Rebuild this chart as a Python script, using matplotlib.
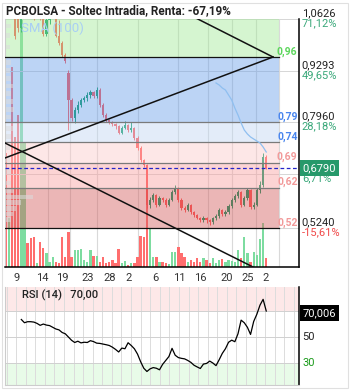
import numpy as np
import matplotlib.pyplot as plt
from matplotlib.transforms import blended_transform_factory
from matplotlib.patches import Rectangle

plt.rcParams['font.family'] = ['Roboto', 'DejaVu Sans']

# velas intradia (3 velas por sesion)
opens = [1.14, 1.11, 1.13, 1.09, 1.07, 1.04, 1.09, 1.12, 1.10, 1.08,
         1.07, 1.08, 1.07, 1.025, 1.06, 1.08, 1.085, 1.02, 1.00, 0.97,
         0.924, 0.854, 0.807, 0.828, 0.841, 0.854, 0.859, 0.867, 0.874, 0.864,
         0.880, 0.841, 0.815, 0.802, 0.797, 0.792, 0.787, 0.769, 0.782, 0.789,
         0.777, 0.782, 0.756, 0.730, 0.699, 0.686, 0.583, 0.596, 0.609, 0.583,
         0.601, 0.596, 0.583, 0.596, 0.617, 0.627, 0.596, 0.575, 0.570, 0.583,
         0.565, 0.557, 0.550, 0.544, 0.550, 0.544, 0.539, 0.550, 0.555, 0.570,
         0.560, 0.565, 0.581, 0.596, 0.606, 0.617, 0.583, 0.601, 0.622, 0.578,
         0.583, 0.622, 0.635, 0.707]
closes = [1.11, 1.13, 1.09, 1.02, 1.04, 1.09, 1.12, 1.10, 1.08, 1.07,
          1.08, 1.07, 1.025, 1.06, 1.08, 1.085, 1.02, 1.00, 0.97, 0.955,
          0.854, 0.807, 0.828, 0.841, 0.854, 0.859, 0.867, 0.874, 0.864, 0.880,
          0.841, 0.815, 0.802, 0.797, 0.792, 0.787, 0.769, 0.782, 0.789, 0.777,
          0.782, 0.756, 0.730, 0.699, 0.686, 0.583, 0.596, 0.609, 0.583, 0.601,
          0.596, 0.583, 0.596, 0.617, 0.627, 0.596, 0.575, 0.570, 0.583, 0.565,
          0.557, 0.550, 0.544, 0.550, 0.544, 0.539, 0.550, 0.555, 0.570, 0.560,
          0.565, 0.581, 0.596, 0.606, 0.617, 0.583, 0.601, 0.622, 0.578, 0.583,
          0.622, 0.635, 0.707, 0.679]
highs = [1.15, 1.14, 1.14, 1.10, 1.08, 1.10, 1.13, 1.13, 1.11, 1.09,
         1.09, 1.085, 1.075, 1.07, 1.09, 1.09, 1.09, 1.06, 1.005, 0.975,
         0.93, 0.86, 0.835, 0.85, 0.86, 0.865, 0.875, 0.88, 0.878, 0.888,
         0.884, 0.845, 0.82, 0.806, 0.80, 0.795, 0.79, 0.786, 0.80, 0.792,
         0.797, 0.785, 0.76, 0.735, 0.703, 0.69, 0.605, 0.615, 0.612, 0.607,
         0.605, 0.60, 0.60, 0.622, 0.635, 0.63, 0.60, 0.58, 0.588, 0.586,
         0.568, 0.56, 0.553, 0.555, 0.552, 0.548, 0.553, 0.56, 0.575, 0.572,
         0.57, 0.586, 0.60, 0.612, 0.622, 0.62, 0.606, 0.627, 0.625, 0.59,
         0.627, 0.645, 0.716, 0.712]
lows = [1.10, 1.10, 1.08, 1.01, 1.03, 1.03, 1.08, 1.09, 1.07, 1.06,
        1.065, 1.06, 1.02, 1.02, 1.05, 1.075, 1.015, 0.995, 0.965, 0.95,
        0.777, 0.80, 0.795, 0.82, 0.835, 0.848, 0.85, 0.86, 0.858, 0.86,
        0.836, 0.81, 0.797, 0.792, 0.787, 0.78, 0.765, 0.765, 0.778, 0.772,
        0.772, 0.752, 0.725, 0.695, 0.68, 0.575, 0.575, 0.59, 0.578, 0.58,
        0.59, 0.578, 0.58, 0.593, 0.612, 0.592, 0.57, 0.565, 0.567, 0.56,
        0.552, 0.546, 0.54, 0.54, 0.538, 0.532, 0.535, 0.545, 0.55, 0.556,
        0.555, 0.56, 0.576, 0.59, 0.60, 0.578, 0.58, 0.597, 0.573, 0.574,
        0.58, 0.615, 0.63, 0.675]
volumes = [1140, 490, 2000, 1300, 1520, 3000, 1250, 240, 290, 300,
           40, 250, 190, 140, 50, 100, 50, 40, 300, 100,
           350, 100, 170, 170, 180, 70, 50, 170, 110, 110,
           50, 100, 40, 50, 70, 40, 180, 40, 60, 20,
           40, 40, 100, 310, 300, 1020, 380, 100, 100, 50,
           50, 40, 30, 150, 150, 200, 140, 100, 50, 70,
           50, 90, 50, 90, 70, 40, 90, 40, 70, 80,
           50, 70, 60, 50, 170, 90, 300, 140, 50, 150,
           120, 280, 440, 90]

sma_start = 67
sma100 = [0.8977, 0.8925, 0.8848, 0.8796, 0.8667, 0.8538, 0.8332, 0.8152, 0.7946,
          0.7765, 0.7662, 0.7585, 0.7533, 0.7482, 0.7430, 0.7327, 0.7198]

rsi_start = 5
rsi14 = [63.5, 61, 61.8, 61.8, 61.5, 60.5, 59, 60, 59.2, 58.8, 57.5, 56.2, 55.5, 53.5,
         52.5, 50, 47.5, 45.8, 46.8, 45.5, 46, 45.8, 47.2, 46.5, 45.3, 45.1, 44.6, 44.1,
         43.5, 42.2, 40.5, 38.5, 41.5, 41, 45.6, 43.5, 41, 36.9, 31, 26, 23.5, 25.5, 26.5,
         26, 24.8, 29, 32, 35, 41.3, 36, 34.2, 33.6, 33.2, 32, 30.5, 28.3, 27, 25.8, 29.2,
         29.7, 31.5, 30, 28, 32.5, 37.4, 41, 46, 47.6, 46.4, 52.5, 63, 61, 57.5, 52, 62,
         67.5, 74.5, 79, 70.006]

# perfil de volumen (izquierda)
profile_prices = [1.045, 1.02, 0.99, 0.95, 0.93, 0.91, 0.89, 0.87, 0.85, 0.83, 0.81,
                  0.78, 0.76, 0.73, 0.70, 0.67, 0.64, 0.62, 0.604, 0.59, 0.575, 0.56, 0.545]
profile_size = [2, 1.5, 1.5, 2, 1.5, 2, 2.5, 2, 2.5, 3, 2, 2.5, 2, 1.5, 1.5, 2, 2, 3,
                9, 5, 3.5, 2.5, 2]

fib_low = 0.524
fib_high = 0.9646
fib_ratios = [0, 0.236, 0.382, 0.5, 0.618, 1]

trend_lines = [((-0.2, 0.7044), (85.15, 0.9646)),
               ((30.05, 1.19), (85.15, 0.9646)),
               ((-0.2, 0.743), (78.8, 0.4234))]

date_pos = [3.6, 11.6, 18.0, 26.2, 33.2, 39.0, 47.6, 55.2, 61.9, 70.5, 77.2, 82.9]
date_labels = ['9', '14', '19', '23', '28', '2', '6', '11', '16', '20', '25', '2']
grid_pos = [13.5, 20.5, 29.1, 42.2, 54.9, 64.4, 72.1, 79.7, 87.1]

axis_prices = [1.0626, 0.9293, 0.7960, 0.6627, 0.5240]
axis_pcts = ['71,12%', '49,65%', '28,18%', '6,71%', '-15,61%']

title = 'PCBOLSA - Soltec Intradia, Renta: -67,19%'

# ---------------------------------------------------------------
W, H = 353, 390
def box(x0, y0, x1, y1):
    return [x0 / W, 1 - y1 / H, (x1 - x0) / W, (y1 - y0) / H]

def coma(v, dec):
    # truncado, como en la grafica original
    f = 10 ** dec
    return ('%.*f' % (dec, np.floor(v * f + 1e-9) / f)).replace('.', ',')

xmin, xmax = -0.2, 93.43
ymin, ymax = 0.4234, 1.0626

fig = plt.figure(figsize=(3.53, 3.90), dpi=100)
vax = fig.add_axes(box(5, 19, 299, 267))
ax = fig.add_axes(box(5, 19, 299, 267))
rax = fig.add_axes(box(5, 287, 299, 385))
vax.set_zorder(1)
ax.set_zorder(2)
ax.patch.set_visible(False)

x = np.arange(len(closes))
o = np.array(opens)
c = np.array(closes)
up = c >= o

# volumen
vcols = np.where(up, '#7ddca0', '#ff6e6e')
for g in grid_pos:
    vax.axvline(g, color='#d9d9d9', lw=0.8, zorder=0)
vax.bar(x, volumes, width=0.75, color=vcols, zorder=1)
vax.set_xlim(xmin, xmax)
vax.set_ylim(0, 2480)
vax.axis('off')

# velas
ccols = np.where(up, '#00965f', '#ff4d4d')
ax.vlines(x, lows, highs, colors=ccols, lw=0.7, zorder=1)
ax.bar(x, np.maximum(np.abs(c - o), 0.003), bottom=np.minimum(o, c), width=0.7,
       color=ccols, zorder=1)

for p in axis_prices:
    ax.axhline(p, color='#d6d6d6', lw=0.7, zorder=0)

# bandas de Fibonacci (semitransparentes por encima)
levels = [fib_low + r * (fib_high - fib_low) for r in fib_ratios]
band_cols = ['#d35f5f', '#f9a0a0', '#fbcaca', '#c1d7f2', '#6ba0e9']
bx = (279 - 5) / 294
for lo, hi, col in zip(levels[:-1], levels[1:], band_cols):
    ax.axhspan(lo, hi, xmin=0, xmax=bx, color=col, alpha=0.45, lw=0, zorder=2)
ax.axhspan(fib_high, ymax, xmin=0, xmax=bx, color='#a2e997', alpha=0.45, lw=0, zorder=2)

ax.barh(profile_prices, profile_size, height=0.012, left=xmin, color='#dcdcdc',
        alpha=0.55, zorder=2.5)

trans = blended_transform_factory(ax.transAxes, ax.transData)
lab_cols = ['#f29a9a', '#f29a9a', '#f29a9a', '#4a86ee', '#4a86ee', '#5cd65c']
for lv, lc in zip(levels, lab_cols):
    edge = '#111111' if lv in (fib_low, fib_high) else '#7a7a7a'
    ax.axhline(lv, xmax=bx, color=edge, lw=0.9, zorder=3)
    ax.annotate(coma(lv, 2), (1, lv), xycoords=trans, xytext=(-1, 2), textcoords='offset points',
                ha='right', va='baseline', fontsize=7.5, fontweight='bold', color=lc,
                annotation_clip=False, zorder=6)

ax.axhline(closes[-1], color='#2424c8', lw=0.9, ls=(0, (3, 2)), zorder=4)
ax.plot(np.arange(sma_start, sma_start + len(sma100)), sma100, color='#8fbff0', lw=0.9, zorder=4)
for (x0, y0), (x1, y1) in trend_lines:
    ax.plot([x0, x1], [y0, y1], color='#111111', lw=1.1, zorder=5)

ax.set_xlim(xmin, xmax)
ax.set_ylim(ymin, ymax)
ax.set_yticks([])
ax.set_xticks(date_pos)
ax.set_xticklabels(date_labels)
ax.tick_params(axis='x', length=0, pad=4, labelsize=8, labelcolor='#333333')
ax.spines['top'].set_visible(False)
ax.spines['left'].set_color('#cccccc')
ax.spines['left'].set_linewidth(0.8)
ax.spines['right'].set_color('black')
ax.spines['bottom'].set_color('black')
ax.spines['right'].set_linewidth(1.1)
ax.spines['bottom'].set_linewidth(1.1)

# escala derecha
for p, pct in zip(axis_prices, axis_pcts):
    if abs(p - closes[-1]) > 0.03:
        ax.annotate(coma(p, 4), (1, p), xycoords=trans, xytext=(2, 4.3),
                    textcoords='offset points', va='center', ha='left', fontsize=8,
                    color='#222222', annotation_clip=False)
    ax.annotate(pct, (1, p), xycoords=trans, xytext=(2, -3),
                textcoords='offset points', va='center', ha='left', fontsize=8,
                color='#f04848' if pct.startswith('-') else '#3aa87a', annotation_clip=False)
ax.annotate(coma(closes[-1], 4), (1, closes[-1]), xycoords=trans,
            xytext=(2.5, 0), textcoords='offset points', va='center', ha='left', fontsize=8,
            color='white', annotation_clip=False, zorder=7,
            bbox=dict(boxstyle='square,pad=0.25', fc='#26996a', ec='none'))

# RSI
rax.axhspan(70, 88.5, color='#fde8e8', lw=0, zorder=0)
rax.axhspan(13.1, 30, color='#e8fbe8', lw=0, zorder=0)
for g in np.arange(0.3, xmax, 3.05):
    rax.axvline(g, color='#dcdcdc', lw=0.7, zorder=1)
for lv in [70, 50, 30]:
    rax.axhline(lv, color='#d0d0d0', lw=0.7, zorder=1)
rax.plot(np.arange(rsi_start, rsi_start + len(rsi14)), rsi14, color='black', lw=0.9, zorder=3)
rax.set_xlim(xmin, xmax)
rax.set_ylim(13.1, 88.5)
rax.set_xticks([])
rax.set_yticks([])
rax.spines['top'].set_visible(False)
rax.spines['left'].set_color('#cccccc')
rax.spines['bottom'].set_color('#cccccc')
rax.spines['right'].set_color('black')
rax.spines['right'].set_linewidth(1.1)
rax.text(0.058, 0.92, 'RSI (14)   ' + coma(rsi14[-1], 2),
         transform=rax.transAxes, fontsize=8, fontweight='medium', color='#222222', va='center')
rtrans = blended_transform_factory(rax.transAxes, rax.transData)
rax.annotate(coma(rsi14[-1], 3), (1, rsi14[-1]), xycoords=rtrans,
             xytext=(2.5, -1.5), textcoords='offset points', va='center', ha='left', fontsize=8,
             color='white', annotation_clip=False,
             bbox=dict(boxstyle='square,pad=0.25', fc='black', ec='none'))
rax.annotate('50', (1, 50), xycoords=rtrans, xytext=(2.5, 0), textcoords='offset points',
             va='center', ha='left', fontsize=8, color='#222222', annotation_clip=False)
rax.annotate('30', (1, 30), xycoords=rtrans, xytext=(2.5, 0), textcoords='offset points',
             va='center', ha='left', fontsize=8, color='#1a9a1a', annotation_clip=False)

fig.text(6 / W, 1 - 11 / H, title, fontsize=8.5, fontweight='bold', color='#222222',
         va='center', ha='left')
fig.text(21 / W, 1 - 28 / H, 'SMA (100)', fontsize=9.5, color='#a9cff4', va='center', ha='left')
fig.add_artist(Rectangle((2 / W, 2 / H), 346 / W, 385 / H, transform=fig.transFigure,
                         fill=False, ec='#e0e0e0', lw=0.8))

fig.savefig('out.png', dpi=100)
